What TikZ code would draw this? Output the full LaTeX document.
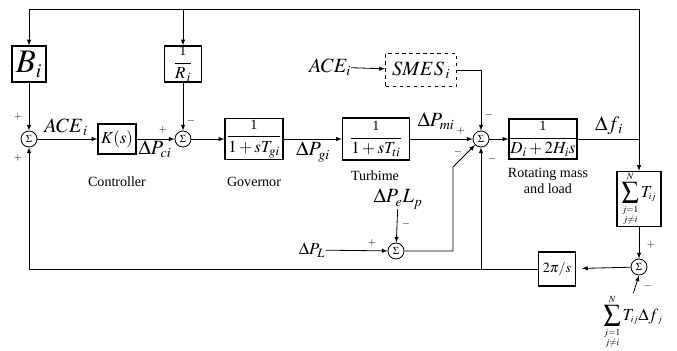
\documentclass[tikz,border=0pt]{standalone}
\usepackage{amsmath}
\usepackage{mathptmx}
\usepackage[no-math]{fontspec}
\setmainfont{Liberation Serif}
\usetikzlibrary{calc}

\newcommand{\one}{\text{\large 1}}
\newcommand{\tsm}[1]{\scriptscriptstyle #1}

\begin{document}
\begin{tikzpicture}[>=latex, x=0.03cm, y=-0.03cm, line width=0.7pt,
  blk/.style={draw, line width=1.1pt, inner sep=0pt, align=center},
  sumn/.style={draw, circle, inner sep=0pt, minimum size=0.48cm, font=\small},
  sgn/.style={inner sep=0pt, font=\small},
  lbl/.style={inner sep=0pt, font=\large}]
  \useasboundingbox (0,0) rectangle (677,350);
  % forward path
  \node[sumn] (s1) at (29,139) {$\Sigma$};
  \node[blk, minimum width=1.14cm, minimum height=0.9cm, font=\Large] (kbox) at (117,139) {$K(s)$};
  \node[sumn] (s2) at (183,139) {$\Sigma$};
  \node[blk, minimum width=1.74cm, minimum height=1.23cm, font=\Large] (gov) at (254,139) {$\dfrac{\one}{1+sT_{gi}}$};
  \node[blk, minimum width=2.01cm, minimum height=1.26cm, font=\Large] (turb) at (376,139) {$\dfrac{\one}{1+sT_{ti}}$};
  \node[sumn] (s3) at (481,139) {$\Sigma$};
  \node[blk, minimum width=2.04cm, minimum height=1.2cm, font=\Large] (rot) at (543,139) {$\dfrac{\one}{D_i+2H_is}$};
  % feedback blocks
  \node[blk, minimum width=1.02cm, minimum height=1.08cm, font=\fontsize{28}{30}\selectfont] (bbox) at (29,64) {$B_{\scriptscriptstyle i}$};
  \node[blk, minimum width=1.11cm, minimum height=1.08cm, font=\Large] (rbox) at (183,64) {$\dfrac{\one}{R_{\,i}}$};
  \node[blk, dashed, minimum width=2.13cm, minimum height=0.99cm, font=\LARGE] (smes) at (421,70) {$SMES_{\,i}$};
  \node[lbl, font=\LARGE] (ace2) at (330,67) {$ACE_i$};
  \node[blk, minimum width=1.32cm, minimum height=1.44cm, font=\Large] (tsum) at (639,199) {$\displaystyle\sum_{\substack{\tsm{j=1}\\ \tsm{j\neq i}}}^{\tsm{N}}T_{\tsm{ij}}$};
  \node[sumn] (s4) at (639,267) {$\Sigma$};
  \node[blk, minimum width=1.11cm, minimum height=1.02cm, font=\large] (pibox) at (557,269) {$2\pi/s$};
  \node[lbl, font=\Large] (tdf) at (633,322) {$\displaystyle\sum_{\substack{\tsm{j=1}\\ \tsm{j\neq i}}}^{\tsm{N}}T_{\tsm{ij}}\Delta f_{\,\tsm{j}}$};
  % load disturbance
  \node[sumn] (sl) at (396,251) {$\Sigma$};
  \node[lbl, font=\Large] (dpl) at (312,250) {$\Delta P_L$};
  \node[lbl, font=\LARGE] (dpe) at (398,199) {$\Delta P_eL_p$};
  % signal labels
  \node[lbl, font=\LARGE] (ace1) at (66,127) {$ACE_{\,i}$};
  \node[lbl, font=\LARGE] (dpc) at (155,149) {$\Delta P_{ci}$};
  \node[lbl, font=\LARGE] (dpg) at (313,152) {$\Delta P_{gi}$};
  \node[lbl, font=\LARGE] (dpm) at (436,121) {$\Delta P_{mi}$};
  \node[lbl, font=\LARGE] (dfi) at (609,126) {$\Delta f_{\,i}$};
  \node[lbl] (tc) at (117,182) {Controller};
  \node[lbl] (tg) at (254,182) {Governor};
  \node[lbl] (tt) at (375,176) {Turbime};
  \node[lbl, align=center] (tr) at (548,181) {Rotating mass\\and load};
  % signs
  \node[sgn] (p1a) at (18,117) {$+$};
  \node[sgn] (p1b) at (18,158) {$+$};
  \node[sgn] (p2a) at (163,130) {$+$};
  \node[sgn] (m2a) at (191,121) {$-$};
  \node[sgn] (p3a) at (461,131) {$+$};
  \node[sgn] (m3a) at (489,115) {$-$};
  \node[sgn] (m3b) at (458,152) {$-$};
  \node[sgn] (m3c) at (492,159) {$-$};
  \node[sgn] (pla) at (372,243) {$+$};
  \node[sgn] (mla) at (406,224) {$-$};
  \node[sgn] (p4a) at (651,245) {$+$};
  \node[sgn] (m4a) at (648,286) {$-$};
  % connectors
  \coordinate (top) at (639,9);
  \coordinate (knee) at (453,167);
  \draw[->] (s1) -- (kbox);
  \draw[->] (kbox) -- (s2);
  \draw[->] (s2) -- (gov);
  \draw[->] (gov) -- (turb);
  \draw[->] (turb) -- (s3);
  \draw[->] (s3) -- (rot);
  \draw[->] (rot.east) -- (rot.east -| tsum.north) -- (tsum.north);
  \draw (rot.east -| tsum.north) -- (top);
  \draw[->] (top) -| (bbox.north);
  \draw[->] (rbox.north |- top) -- (rbox.north);
  \draw[->] (bbox) -- (s1);
  \draw[->] (rbox) -- (s2);
  \draw[->] (ace2) -- (smes);
  \draw[->] (smes.east) -| (s3.north);
  \draw[->] (tsum) -- (s4);
  \draw[->, shorten <=1pt] (tdf.north) -- (s4.south);
  \draw[->, shorten >=5pt] (s4) -- (pibox);
  \draw[->] (pibox.west) -| (s1.south);
  \draw[->] (s3.south |- pibox.west) -- (s3.south);
  \draw[->] (dpl) -- (sl);
  \draw[->] (dpe) -- (sl);
  \draw[->] (sl.east) -| (knee) -- (s3.south west);
\end{tikzpicture}
\end{document}
